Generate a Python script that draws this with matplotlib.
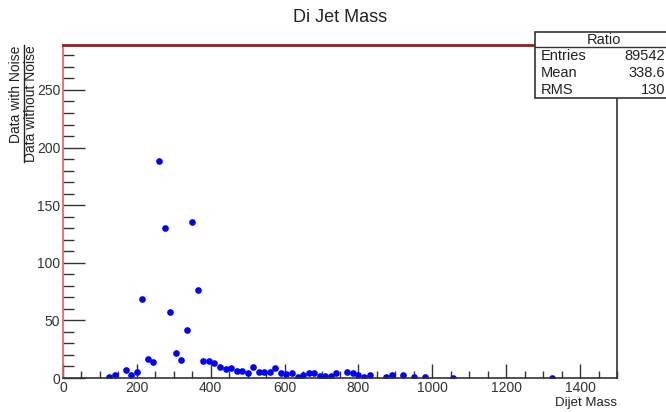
"""
Di Jet Mass - ratio of data with noise to data without noise
"""

import numpy as np
import matplotlib
matplotlib.use("Agg")
import matplotlib.pyplot as plt
from matplotlib.patches import Rectangle
from matplotlib.lines import Line2D
from matplotlib.ticker import MultipleLocator

plt.rcParams["font.family"] = ["Liberation Sans", "DejaVu Sans"]

# -----------------------------
# DATA
# -----------------------------

mass = [125, 140, 170, 185, 200, 215, 230, 245, 260, 275, 290, 305, 320, 335,
        350, 365, 380, 395, 410, 425, 440, 455, 470, 485, 500, 515, 530, 545,
        560, 575, 590, 605, 620, 635, 650, 665, 680, 695, 710, 725, 740, 770,
        785, 800, 815, 830, 875, 890, 920, 950, 980, 1055, 1325]

ratio = [0.5, 2.9, 6.6, 2.9, 5.5, 68.5, 16.7, 14.1, 187.9, 129.8, 56.9, 21.5,
         15.3, 41.6, 135.8, 76.6, 14.4, 14.4, 12.7, 9.2, 7.8, 8.3, 5.7, 6.3,
         4.6, 9.2, 5.5, 5.5, 5.5, 8.3, 4.0, 3.4, 4.3, 1.1, 2.3, 4.0, 4.0, 2.0,
         2.0, 2.0, 4.0, 5.2, 4.3, 2.3, 1.1, 2.3, 1.1, 2.3, 2.3, 1.1, 1.1, 0.4,
         0.4]

stats_labels = ["Entries", "Mean", "RMS"]
stats_values = ["89542", "338.6", "130"]

W, H = 666, 412


def fx(px):
    return px / W


def fy(py):
    return 1 - py / H


# -----------------------------
# PLOT
# -----------------------------

fig = plt.figure(figsize=(6.66, 4.12), dpi=100)
ax = fig.add_axes([fx(63), fy(378), fx(617) - fx(63), fy(45) - fy(378)])

ax.plot(mass, ratio, "o", color="#0000ff", markersize=4.8, markeredgewidth=0)

ax.set_xlim(0, 1500)
ax.set_ylim(0, 289)

ax.xaxis.set_major_locator(MultipleLocator(200))
ax.xaxis.set_minor_locator(MultipleLocator(50))
ax.yaxis.set_major_locator(MultipleLocator(50))
ax.yaxis.set_minor_locator(MultipleLocator(10))

ax.tick_params(axis="x", which="major", direction="in", length=10, width=1,
               color="#333333", labelsize=10, labelcolor="#333333", pad=2)
ax.tick_params(axis="x", which="minor", direction="in", length=5, width=1,
               color="#333333")
ax.tick_params(axis="y", which="major", direction="in", length=16, width=1,
               color="#333333", labelsize=10, labelcolor="#333333", pad=2)
ax.tick_params(axis="y", which="minor", direction="in", length=8, width=1,
               color="#333333")

for side in ["bottom", "right"]:
    ax.spines[side].set_color("#333333")
    ax.spines[side].set_linewidth(1.2)
ax.spines["top"].set_color("#9b1c1c")
ax.spines["top"].set_linewidth(2)
ax.spines["left"].set_color("#e06060")
ax.spines["left"].set_linewidth(1.2)

fig.text(fx(340), fy(18), "Di Jet Mass", ha="center", va="center",
         fontsize=13, color="#222222")
fig.text(fx(617), fy(403), "Dijet Mass", ha="right", va="center",
         fontsize=9.5, color="#222222")

# y title as a fraction
fig.text(fx(16), fy(46), "Data with Noise", rotation=90, ha="center",
         va="top", fontsize=10, color="#222222")
fig.text(fx(31), fy(45), "Data without Noise", rotation=90, ha="center",
         va="top", fontsize=10, color="#222222")
fig.add_artist(Line2D([fx(23.5), fx(23.5)], [fy(45), fy(162)],
                      color="#222222", linewidth=1,
                      transform=fig.transFigure))

# stats box
box = Rectangle((fx(535), fy(98)), fx(680) - fx(535), fy(32) - fy(98),
                transform=fig.transFigure, facecolor="white",
                edgecolor="#333333", linewidth=1.2, zorder=5)
fig.add_artist(box)
fig.add_artist(Line2D([fx(535), fx(680)], [fy(47), fy(47)], color="#333333",
                      linewidth=1, transform=fig.transFigure, zorder=6))
fig.text(fx(604), fy(39.5), "Ratio", ha="center", va="center", fontsize=10.5,
         color="#222222", zorder=7)
for i, (lab, val) in enumerate(zip(stats_labels, stats_values)):
    y = 56.5 + i * 16.5
    fig.text(fx(541), fy(y), lab, ha="left", va="center", fontsize=10.5,
             color="#222222", zorder=7)
    fig.text(fx(665), fy(y), val, ha="right", va="center", fontsize=10.5,
             color="#222222", zorder=7)

fig.savefig("out.png", dpi=100)
